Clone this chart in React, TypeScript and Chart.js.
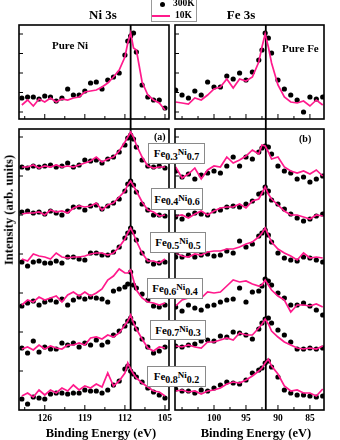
import React, { useEffect, useRef } from 'react';
import { Chart, registerables } from 'chart.js';

Chart.register(...registerables);

const FONT = "'Liberation Serif', 'Times New Roman', serif";
const PINK = '#ff1a8c';

// ---- energy grids (eV) ----
const niEnergy = [130, 129, 128, 127, 126, 125, 124, 123, 122, 121, 120, 119, 118, 117, 116, 115, 114, 113, 112, 111.5, 111, 110.5, 110, 109, 108, 107, 106, 105];
const feEnergy = [106, 105, 104, 103, 102, 101, 100, 99, 98, 97, 96, 95, 94, 93, 92.5, 92, 91.5, 91, 90, 89, 88, 87, 86, 85, 84, 83];

// ---- axis ticks ----
const niTickLabels = [126, 119, 112, 105];
const niTicks = [129.5, 126, 122.5, 119, 115.5, 112, 108.5, 105];
const feTickLabels = [100, 95, 90, 85];
const feTicks = [105, 102.5, 100, 97.5, 95, 92.5, 90, 87.5, 85];
const topYTicks = [0.7, 2.65, 4.6, 6.55, 8.5];
const bottomYTicks = [3.9, 7.8, 11.7, 15.6, 19.5, 23.4, 27.3];
const niPeak = 111.0;
const fePeak = 91.9;

// ---- pure metals (top panels) ----
const pureNi300K = [2.1, 2.2, 2.2, 2.0, 2.3, 2.2, 1.8, 2.1, 3.0, 2.4, 2.4, 2.8, 3.6, 3.7, 3.0, 3.9, 4.2, 4.6, 6.4, 7.8, 8.3, 8.6, 6.7, 3.4, 2.2, 1.9, 1.9, 1.1];
const pureNi10K = [1.4, 1.9, 1.3, 2.0, 1.7, 2.1, 1.7, 2.0, 1.9, 2.1, 2.2, 2.7, 2.8, 2.9, 3.2, 3.6, 4.2, 4.9, 6.2, 7.6, 8.6, 7.1, 6.9, 3.7, 2.4, 1.9, 1.6, 0.9];
const pureFe300K = [2.9, 2.4, 2.1, 2.8, 2.4, 3.7, 3.2, 3.2, 4.3, 4.0, 4.6, 3.9, 4.7, 5.9, 6.9, 8.6, 8.1, 6.6, 3.9, 3.0, 2.4, 1.9, 0.7, 2.2, 2.0, 2.2];
const pureFe10K = [1.7, 1.6, 1.5, 2.1, 1.9, 2.4, 3.0, 3.2, 4.0, 3.1, 4.0, 3.8, 4.2, 5.7, 7.2, 8.5, 7.2, 5.6, 3.4, 2.2, 1.7, 1.6, 1.8, 1.3, 1.9, 1.4];

// ---- alloys, Ni 3s (stacked, arb. units) ----
const ni300K_Fe03 = [24.3, 24.2, 24.4, 24.3, 24.4, 24.5, 24.3, 24.4, 24.7, 24.3, 24.5, 25.0, 24.9, 25.0, 24.7, 25.1, 25.3, 25.8, 26.5, 27.2, 27.5, 27.1, 26.3, 25.0, 24.4, 24.3, 24.4, 24.2];
const ni10K_Fe03 = [24.3, 24.3, 24.5, 24.2, 24.4, 24.3, 24.5, 24.3, 24.4, 24.3, 24.5, 24.7, 24.9, 25.3, 24.8, 25.1, 25.3, 25.9, 26.8, 27.3, 27.8, 27.3, 26.5, 25.3, 24.4, 24.2, 24.3, 24.3];
const ni300K_Fe04 = [19.8, 19.9, 19.7, 19.8, 19.6, 19.9, 19.7, 19.5, 19.9, 20.3, 20.3, 20.0, 20.4, 20.5, 20.1, 20.4, 20.7, 21.1, 21.9, 22.6, 22.9, 22.5, 21.8, 20.6, 20.0, 19.5, 19.5, 19.4];
const ni10K_Fe04 = [19.6, 19.7, 19.7, 19.8, 19.5, 20.0, 19.8, 19.9, 19.7, 20.2, 20.4, 20.3, 20.4, 20.7, 20.0, 20.5, 20.7, 21.3, 21.9, 22.5, 22.9, 22.4, 21.9, 20.8, 20.0, 19.8, 19.4, 19.5];
const ni300K_Fe05 = [14.8, 14.4, 14.8, 14.9, 14.7, 14.7, 14.9, 14.7, 15.3, 15.3, 15.1, 15.0, 15.7, 15.7, 15.5, 15.5, 15.8, 16.3, 17.2, 17.7, 18.2, 17.8, 17.0, 15.7, 14.9, 14.6, 14.7, 14.8];
const ni10K_Fe05 = [15.1, 14.9, 15.6, 15.4, 15.3, 15.1, 15.7, 15.3, 15.2, 15.3, 15.3, 15.4, 15.6, 15.7, 15.7, 15.5, 15.7, 16.3, 17.1, 17.7, 18.2, 17.6, 16.9, 15.7, 14.9, 14.9, 14.7, 15.1];
const ni300K_Fe06 = [10.4, 10.7, 10.9, 10.5, 10.8, 11.0, 10.8, 11.1, 10.5, 11.0, 11.3, 11.1, 11.3, 11.2, 11.1, 10.8, 11.9, 12.1, 12.3, 12.6, 13.8, 12.5, 12.2, 11.6, 11.0, 10.4, 10.3, 10.5];
const ni10K_Fe06 = [10.5, 11.0, 10.8, 11.3, 11.0, 11.2, 11.4, 10.8, 11.5, 11.8, 11.4, 11.8, 11.4, 11.7, 12.1, 13.0, 13.4, 14.1, 13.7, 13.7, 14.0, 13.0, 12.0, 11.2, 10.8, 10.7, 10.5, 10.7];
const ni300K_Fe07 = [6.2, 5.7, 6.9, 5.8, 6.3, 6.1, 6.1, 6.7, 6.5, 6.7, 6.3, 6.7, 6.5, 7.0, 6.5, 6.8, 7.5, 7.9, 8.4, 8.9, 9.2, 8.7, 8.1, 7.1, 6.3, 5.7, 5.9, 6.3];
const ni10K_Fe07 = [6.1, 6.3, 6.0, 6.5, 6.1, 6.4, 6.2, 6.1, 6.5, 6.5, 6.7, 6.5, 7.2, 7.3, 7.1, 7.5, 7.3, 7.7, 8.5, 8.9, 9.5, 8.7, 8.1, 7.1, 6.2, 5.9, 6.3, 6.2];
const ni300K_Fe08 = [1.1, 0.6, 1.3, 1.2, 1.1, 1.6, 1.7, 1.7, 1.6, 1.7, 1.7, 2.0, 1.9, 1.9, 1.7, 2.0, 2.5, 2.9, 4.1, 4.4, 3.9, 3.6, 3.3, 2.8, 2.2, 1.8, 1.5, 1.2];
const ni10K_Fe08 = [1.4, 1.7, 1.3, 2.0, 1.5, 2.0, 1.7, 2.2, 1.9, 2.5, 2.0, 2.4, 2.2, 2.6, 2.3, 3.7, 2.4, 2.9, 3.7, 4.7, 4.1, 3.6, 3.2, 2.7, 2.3, 1.9, 1.8, 1.4];

// ---- alloys, Fe 3s (stacked, arb. units) ----
const fe300K_Fe03 = [23.9, 23.3, 23.6, 23.1, 23.5, 23.7, 23.9, 23.7, 24.4, 25.3, 24.4, 25.3, 25.1, 25.8, 26.2, 26.4, 26.3, 25.6, 24.4, 23.9, 23.7, 23.1, 23.3, 22.8, 23.1, 23.4];
const fe10K_Fe03 = [24.3, 23.2, 23.6, 24.2, 23.1, 24.0, 24.4, 24.3, 25.3, 24.7, 25.0, 25.4, 26.0, 25.6, 26.5, 26.4, 25.8, 25.1, 25.3, 24.3, 23.9, 23.7, 23.9, 23.6, 24.0, 23.4];
const fe300K_Fe04 = [19.3, 19.1, 19.5, 19.7, 19.6, 19.5, 19.9, 20.0, 20.3, 20.4, 20.3, 20.6, 20.9, 21.6, 21.7, 22.3, 21.9, 21.0, 20.6, 20.1, 19.6, 19.2, 18.9, 19.1, 19.4, 19.6];
const fe10K_Fe04 = [19.4, 19.5, 19.2, 19.6, 19.9, 19.5, 19.9, 20.2, 20.3, 20.3, 20.6, 20.2, 20.9, 21.1, 21.7, 22.3, 21.6, 21.1, 20.5, 19.9, 19.5, 19.5, 19.3, 19.1, 19.5, 19.4];
const fe300K_Fe05 = [15.3, 15.3, 15.5, 15.3, 15.5, 15.6, 15.4, 15.5, 15.9, 15.7, 16.9, 16.3, 16.6, 17.4, 17.7, 18.0, 17.5, 16.8, 15.7, 15.2, 15.0, 14.9, 15.3, 15.2, 15.0, 14.8];
const fe10K_Fe05 = [15.7, 15.4, 15.3, 15.6, 15.5, 15.8, 15.9, 15.9, 16.1, 16.1, 16.3, 16.6, 16.8, 17.3, 17.7, 18.2, 17.5, 16.8, 16.1, 15.7, 15.4, 15.0, 15.7, 15.2, 15.3, 15.2];
const fe300K_Fe06 = [10.3, 9.9, 10.5, 10.2, 10.0, 10.4, 10.5, 10.8, 11.0, 11.1, 12.2, 10.8, 11.8, 11.9, 12.4, 13.1, 12.9, 12.5, 11.7, 11.2, 10.5, 10.5, 10.7, 10.4, 10.0, 9.5];
const fe10K_Fe06 = [10.4, 11.0, 11.2, 11.5, 11.2, 11.8, 11.7, 11.8, 12.4, 13.0, 12.8, 12.9, 12.6, 12.4, 12.5, 13.0, 12.5, 12.0, 11.4, 11.0, 9.8, 10.5, 10.5, 10.4, 10.6, 10.3];
const fe300K_Fe07 = [6.4, 6.3, 6.5, 6.6, 6.9, 7.0, 6.9, 7.4, 7.3, 7.8, 7.7, 7.5, 7.1, 8.1, 8.7, 9.1, 9.2, 8.7, 8.0, 7.5, 6.8, 6.1, 6.1, 6.2, 6.1, 6.2];
const fe10K_Fe07 = [6.4, 6.3, 6.5, 6.3, 6.2, 6.8, 6.8, 7.0, 7.2, 7.0, 7.7, 7.5, 7.5, 8.2, 8.6, 9.1, 8.6, 7.9, 7.3, 6.8, 6.5, 6.2, 6.1, 6.2, 6.1, 6.4];
const fe300K_Fe08 = [2.1, 1.9, 1.9, 1.7, 2.0, 1.9, 2.2, 2.5, 2.8, 2.7, 2.6, 3.0, 3.7, 4.0, 4.2, 4.7, 4.9, 4.3, 3.3, 2.0, 1.7, 1.5, 1.5, 1.4, 1.3, 1.4];
const fe10K_Fe08 = [1.9, 2.0, 1.8, 1.9, 1.6, 1.9, 2.0, 2.2, 2.6, 2.8, 2.7, 3.0, 3.4, 3.9, 4.2, 4.7, 5.1, 4.4, 3.6, 2.4, 1.9, 2.0, 1.7, 1.7, 1.4, 2.1];

// ---- composition labels ----
const feFractions = ['0.3', '0.4', '0.5', '0.6', '0.7', '0.8'];
const niFractions = ['0.7', '0.6', '0.5', '0.4', '0.3', '0.2'];

const labelBoxes = [
  { l: 148, t: 143, w: 57, h: 21 },
  { l: 151, t: 188, w: 52, h: 22 },
  { l: 150, t: 232, w: 56, h: 21 },
  { l: 147, t: 278, w: 56, h: 21 },
  { l: 150, t: 320, w: 56, h: 20 },
  { l: 147, t: 366, w: 59, h: 21 },
];

function makeFrame(labels: number[]) {
  return {
    id: 'frameTicks',
    afterDraw(chart: any) {
      const { ctx, chartArea: a, scales } = chart;
      const xs = scales.x;
      const ys = scales.y;
      ctx.save();
      ctx.strokeStyle = '#000';
      ctx.lineWidth = 1;
      ctx.beginPath();
      xs.ticks.forEach((t: any) => {
        const px = xs.getPixelForValue(t.value);
        if (px < a.left + 1 || px > a.right - 1) return;
        const len = labels.includes(t.value) ? 5 : 3;
        ctx.moveTo(px, a.bottom);
        ctx.lineTo(px, a.bottom - len);
      });
      ys.ticks.forEach((t: any) => {
        const py = ys.getPixelForValue(t.value);
        ctx.moveTo(a.left, py);
        ctx.lineTo(a.left + 4, py);
      });
      ctx.stroke();
      ctx.lineWidth = 1.6;
      ctx.strokeRect(a.left, a.top, a.right - a.left, a.bottom - a.top);
      ctx.restore();
    },
  };
}

interface PanelProps {
  left: number;
  top: number;
  width: number;
  height: number;
  pad: { left: number; right: number; top: number; bottom: number };
  xAxisHeight: number;
  energies: number[];
  dots: number[][];
  lines: number[][];
  xMin: number;
  xMax: number;
  yMax: number;
  xTicks: number[];
  xLabels: number[];
  yTicks: number[];
  peak: number;
  showLabels: boolean;
  extendTop: boolean;
}

function Panel(p: PanelProps) {
  const ref = useRef<HTMLCanvasElement>(null);
  useEffect(() => {
    if (!ref.current) return;
    const datasets: any[] = [];
    p.lines.forEach((ys) => {
      datasets.push({
        data: p.energies.map((x, i) => ({ x, y: ys[i] })),
        showLine: true,
        borderColor: PINK,
        borderWidth: 1.7,
        pointRadius: 0,
        order: 0,
      });
    });
    p.dots.forEach((ys) => {
      datasets.push({
        data: p.energies.map((x, i) => ({ x, y: ys[i] })),
        showLine: false,
        backgroundColor: '#000',
        borderWidth: 0,
        pointRadius: 2.6,
        order: 1,
      });
    });
    datasets.push({
      data: p.extendTop
        ? [{ x: p.peak, y: 0 }, { x: p.peak, y: p.yMax + 1.0 }]
        : [{ x: p.peak, y: -1.0 }, { x: p.peak, y: p.yMax }],
      showLine: true,
      borderColor: '#000',
      borderWidth: 1.8,
      pointRadius: 0,
      order: 2,
      clip: p.extendTop ? { left: 0, right: 0, top: 10, bottom: 0 } : { left: 0, right: 0, top: 0, bottom: 10 },
    });
    const chart = new Chart(ref.current, {
      type: 'scatter',
      data: { datasets },
      options: {
        responsive: false,
        animation: false,
        events: [],
        layout: { padding: p.pad },
        plugins: { legend: { display: false }, tooltip: { enabled: false } },
        scales: {
          x: {
            type: 'linear',
            reverse: true,
            min: p.xMin,
            max: p.xMax,
            afterBuildTicks: (s: any) => {
              s.ticks = p.xTicks.map((v) => ({ value: v }));
            },
            afterFit: (s: any) => {
              s.height = p.xAxisHeight;
              s.paddingLeft = 0;
              s.paddingRight = 0;
            },
            ticks: {
              display: p.showLabels,
              autoSkip: false,
              maxRotation: 0,
              padding: 3,
              color: '#000',
              font: { family: FONT, size: 9.5, weight: 'bold' },
              callback: (v: any) => (p.xLabels.includes(Number(v)) ? String(v) : ''),
            },
            grid: { display: false, drawTicks: false },
            border: { display: false },
          },
          y: {
            type: 'linear',
            min: 0,
            max: p.yMax,
            afterBuildTicks: (s: any) => {
              s.ticks = p.yTicks.map((v) => ({ value: v }));
            },
            afterFit: (s: any) => {
              s.width = 0;
            },
            ticks: { display: false },
            grid: { display: false, drawTicks: false },
            border: { display: false },
          },
        },
      } as any,
      plugins: [makeFrame(p.xLabels)],
    });
    return () => chart.destroy();
  }, []);
  return (
    <canvas
      ref={ref}
      width={p.width}
      height={p.height}
      style={{ position: 'absolute', left: p.left, top: p.top, width: p.width, height: p.height }}
    />
  );
}

const abs: React.CSSProperties = { position: 'absolute', whiteSpace: 'nowrap', lineHeight: 1 };

function CompLabel({ i }: { i: number }) {
  const b = labelBoxes[i];
  return (
    <div
      style={{
        position: 'absolute',
        left: b.l,
        top: b.t,
        width: b.w,
        height: b.h,
        boxSizing: 'border-box',
        border: '1px solid #8a8a8a',
        background: '#fff',
        display: 'flex',
        alignItems: 'center',
        justifyContent: 'center',
        fontWeight: 'bold',
        whiteSpace: 'nowrap',
        lineHeight: 1,
        zIndex: 3,
      }}
    >
      <span style={{ fontSize: 11 }}>Fe</span>
      <span style={{ fontSize: 10, position: 'relative', top: 3 }}>{feFractions[i]}</span>
      <span style={{ fontSize: 9, position: 'relative', top: -1 }}>Ni</span>
      <span style={{ fontSize: 10, position: 'relative', top: 3 }}>{niFractions[i]}</span>
    </div>
  );
}

export default function App() {
  return (
    <div
      style={{
        position: 'absolute',
        left: 0,
        top: 0,
        width: 340,
        height: 440,
        background: '#fff',
        overflow: 'hidden',
        fontFamily: FONT,
        color: '#000',
      }}
    >
      <Panel
        left={9} top={20} width={170} height={104}
        pad={{ left: 10, right: 10, top: 5, bottom: 5 }}
        xAxisHeight={0}
        energies={niEnergy}
        dots={[pureNi300K]}
        lines={[pureNi10K]}
        xMin={104.3} xMax={130.5} yMax={9.4}
        xTicks={niTicks} xLabels={niTickLabels} yTicks={topYTicks}
        peak={niPeak} showLabels={false} extendTop={false}
      />
      <Panel
        left={168} top={20} width={164} height={104}
        pad={{ left: 7, right: 8, top: 5, bottom: 5 }}
        xAxisHeight={0}
        energies={feEnergy}
        dots={[pureFe300K]}
        lines={[pureFe10K]}
        xMin={82.8} xMax={106.1} yMax={9.4}
        xTicks={feTicks} xLabels={feTickLabels} yTicks={topYTicks}
        peak={fePeak} showLabels={false} extendTop={false}
      />
      <Panel
        left={4} top={124} width={175} height={306}
        pad={{ left: 15, right: 10, top: 5, bottom: 6 }}
        xAxisHeight={14}
        energies={niEnergy}
        dots={[ni300K_Fe03, ni300K_Fe04, ni300K_Fe05, ni300K_Fe06, ni300K_Fe07, ni300K_Fe08]}
        lines={[ni10K_Fe03, ni10K_Fe04, ni10K_Fe05, ni10K_Fe06, ni10K_Fe07, ni10K_Fe08]}
        xMin={104.3} xMax={130.5} yMax={28.1}
        xTicks={niTicks} xLabels={niTickLabels} yTicks={bottomYTicks}
        peak={niPeak} showLabels={true} extendTop={true}
      />
      <Panel
        left={168} top={124} width={164} height={306}
        pad={{ left: 7, right: 8, top: 5, bottom: 6 }}
        xAxisHeight={14}
        energies={feEnergy}
        dots={[fe300K_Fe03, fe300K_Fe04, fe300K_Fe05, fe300K_Fe06, fe300K_Fe07, fe300K_Fe08]}
        lines={[fe10K_Fe03, fe10K_Fe04, fe10K_Fe05, fe10K_Fe06, fe10K_Fe07, fe10K_Fe08]}
        xMin={82.8} xMax={106.1} yMax={28.1}
        xTicks={feTicks} xLabels={feTickLabels} yTicks={bottomYTicks}
        peak={fePeak} showLabels={true} extendTop={true}
      />

      {/* titles */}
      <div style={{ ...abs, left: 103, top: 14, transform: 'translate(-50%,-50%)', fontSize: 13, fontWeight: 'bold' }}>Ni 3s</div>
      <div style={{ ...abs, left: 241, top: 14, transform: 'translate(-50%,-50%)', fontSize: 13, fontWeight: 'bold' }}>Fe 3s</div>

      {/* legend */}
      <div style={{ position: 'absolute', left: 151, top: -2, width: 46, height: 24, boxSizing: 'border-box', border: '1px solid #999', background: '#fff', zIndex: 3 }} />
      <div style={{ position: 'absolute', left: 159.5, top: 1.5, width: 5, height: 5, borderRadius: '50%', background: '#000', zIndex: 4 }} />
      <div style={{ ...abs, left: 173, top: 4, transform: 'translateY(-50%)', fontSize: 9.5, fontWeight: 'bold', zIndex: 4 }}>300K</div>
      <div style={{ position: 'absolute', left: 152, top: 14.5, width: 18, height: 2, background: PINK, zIndex: 4 }} />
      <div style={{ ...abs, left: 175, top: 16, transform: 'translateY(-50%)', fontSize: 9.5, fontWeight: 'bold', zIndex: 4 }}>10K</div>

      {/* in-panel texts */}
      <div style={{ ...abs, left: 52, top: 45, transform: 'translateY(-50%)', fontSize: 11, fontWeight: 'bold' }}>Pure Ni</div>
      <div style={{ ...abs, left: 282, top: 48, transform: 'translateY(-50%)', fontSize: 11, fontWeight: 'bold' }}>Pure Fe</div>
      <div style={{ ...abs, left: 154, top: 137, transform: 'translateY(-50%)', fontSize: 10, fontWeight: 'bold' }}>(a)</div>
      <div style={{ ...abs, left: 299, top: 139, transform: 'translateY(-50%)', fontSize: 10, fontWeight: 'bold' }}>(b)</div>

      {feFractions.map((_, i) => (
        <CompLabel key={i} i={i} />
      ))}

      {/* axis titles */}
      <div style={{ ...abs, left: 9, top: 210, transform: 'translate(-50%,-50%) rotate(-90deg)', fontSize: 12.5, fontWeight: 'bold' }}>Intensity (arb. units)</div>
      <div style={{ ...abs, left: 101, top: 433, transform: 'translate(-50%,-50%)', fontSize: 12.5, fontWeight: 'bold' }}>Binding Energy (eV)</div>
      <div style={{ ...abs, left: 256, top: 433, transform: 'translate(-50%,-50%)', fontSize: 12.5, fontWeight: 'bold' }}>Binding Energy (eV)</div>
    </div>
  );
}
